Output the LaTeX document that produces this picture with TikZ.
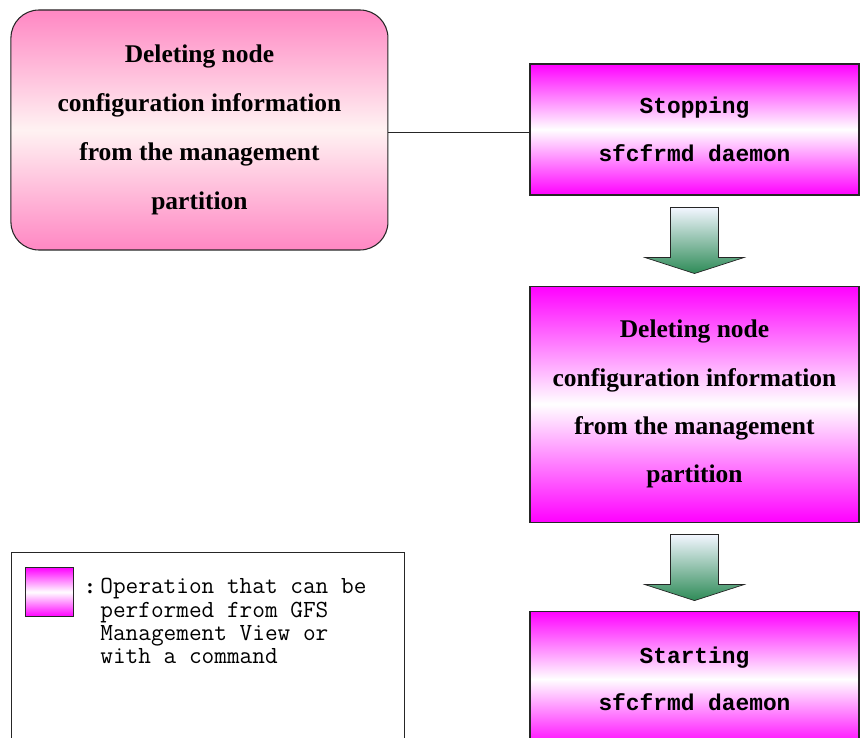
\documentclass[tikz,border=0pt]{standalone}
\usepackage{fontspec}
\setmainfont{Liberation Serif}
\newfontfamily\gothicfont{Liberation Mono}
\usetikzlibrary{positioning, calc}
\definecolor{opmag}{RGB}{255,0,255}
\definecolor{oppink}{RGB}{255,135,195}
\definecolor{arrgreen}{RGB}{46,139,87}
\definecolor{arrtop}{RGB}{242,246,255}
\tikzset{op/.style={draw=black!85, semithick, align=center, top color=opmag, bottom color=opmag, middle color=white,
    minimum width=6.58cm, minimum height=2.62cm, font=\gothicfont\bfseries\fontsize{13}{27}\selectfont},
opround/.style={draw=black!85, semithick, rounded corners=0.56cm, align=center, top color=oppink, bottom color=oppink,
    middle color=pink!20, minimum width=7.54cm, minimum height=4.8cm, font=\bfseries\fontsize{14.5}{28}\selectfont},
link/.style={draw=black!85, semithick},
blockarrow/.style={draw=black!85, thin, top color=arrtop, bottom color=arrgreen},
legendbox/.style={draw=black!85, semithick, anchor=north west, minimum width=7.86cm, minimum height=4.2cm},
legendtext/.style={align=left, anchor=north west, inner sep=0pt, font=\ttfamily\fontsize{14}{13.3}\selectfont}}

\begin{document}
\begin{tikzpicture}[node distance=1.8cm]
  \clip (0,0) rectangle (17.2,-14.76);
  \fill[white] (0,0) rectangle (17.2,-14.76);
  % flow on the right
  \node[op] (stop) at (13.89,-2.59) {Stopping\\sfcfrmd daemon};
  \node[op, below=1.8cm of stop, minimum height=4.72cm, font=\bfseries\fontsize{14.5}{27.5}\selectfont] (del)
    {Deleting node\\configuration information\\from the management\\partition};
  \node[op, below=1.76cm of del, minimum height=2.72cm] (start) {Starting\\sfcfrmd daemon};
  % management partition box
  \node[opround, left=2.82cm of stop, yshift=-0.01cm] (delmp)
    {Deleting node\\configuration information\\from the management\\partition};
  \draw[link] ([yshift=-0.05cm]delmp.east) -- ([yshift=-0.05cm]delmp.east -| stop.west);
  % block arrows
  \foreach \a in {stop, del}
    \path[blockarrow, shift={(\a.south)}] (-0.48,-0.24) -- (0.48,-0.24) -- (0.48,-1.24) -- (0.99,-1.24)
      -- (0,-1.56) -- (-0.99,-1.24) -- (-0.48,-1.24) -- cycle;
  % legend
  \node[legendbox] (legend) at (0.22,-11.04) {};
  \node[draw=black!85, semithick, anchor=north west, top color=opmag, bottom color=opmag, middle color=white,
    minimum width=0.96cm, minimum height=0.98cm, inner sep=0pt] (swatch) at (0.5,-11.34) {};
  \node[legendtext] (legtxt) at (2.0,-11.56)
    {Operation that can be\\performed from GFS\\Management View or\\with a command};
  \node[font=\bfseries\large, inner sep=0pt, anchor=east] (colon) at ([xshift=-0.12cm, yshift=-0.22cm]legtxt.north west) {:};
\end{tikzpicture}
\end{document}
